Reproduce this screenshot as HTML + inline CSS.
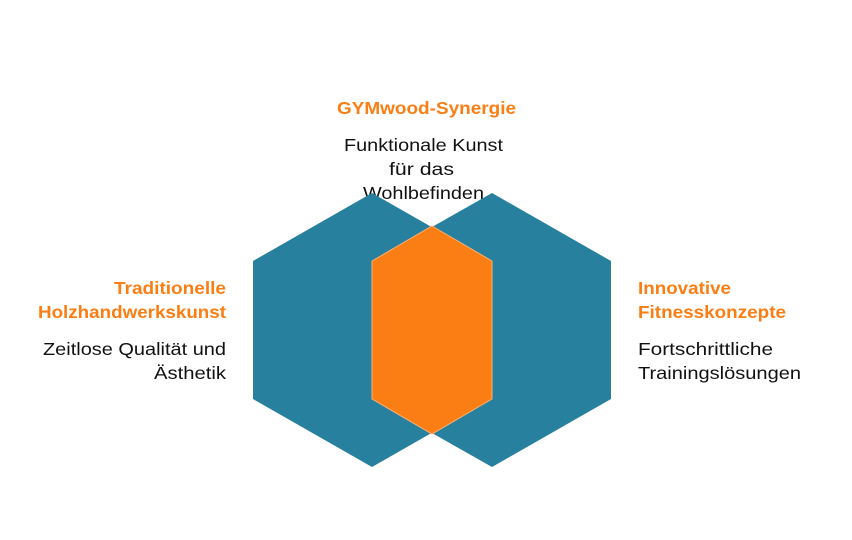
<!DOCTYPE html>
<html><head><meta charset="utf-8"><style>
html,body{margin:0;padding:0;background:#fff;}
svg{display:block;}
text{font-family:"Liberation Sans",sans-serif;font-size:17.5px;}
.t{fill:#fb7e14;font-weight:bold;}
.b{fill:#111;}
</style></head><body>
<svg width="852" height="540" viewBox="0 0 852 540">
<text class="t" x="337" y="114" textLength="179" lengthAdjust="spacingAndGlyphs">GYMwood-Synergie</text>
<text class="b" x="344" y="151" textLength="159" lengthAdjust="spacingAndGlyphs">Funktionale Kunst</text>
<text class="b" x="389" y="175" textLength="65" lengthAdjust="spacingAndGlyphs">für das</text>
<text class="b" x="363" y="199" textLength="121" lengthAdjust="spacingAndGlyphs">Wohlbefinden</text>
<polygon points="372,193 491,261 491,399 372,467 253,399 253,261" fill="#26809e"/>
<polygon points="492,193 611,261 611,399 492,467 372,399 372,261" fill="#26809e"/>
<polygon points="432,226 492,261 492,399 432,434 372,399 372,261" fill="#fb7e14" stroke="#fdb070" stroke-width="1"/>
<text class="t" x="114" y="294" textLength="112" lengthAdjust="spacingAndGlyphs">Traditionelle</text>
<text class="t" x="38" y="318" textLength="188" lengthAdjust="spacingAndGlyphs">Holzhandwerkskunst</text>
<text class="b" x="43" y="355" textLength="183" lengthAdjust="spacingAndGlyphs">Zeitlose Qualität und</text>
<text class="b" x="154" y="379" textLength="72" lengthAdjust="spacingAndGlyphs">Ästhetik</text>
<text class="t" x="638" y="294" textLength="93" lengthAdjust="spacingAndGlyphs">Innovative</text>
<text class="t" x="638" y="318" textLength="148" lengthAdjust="spacingAndGlyphs">Fitnesskonzepte</text>
<text class="b" x="638" y="355" textLength="135" lengthAdjust="spacingAndGlyphs">Fortschrittliche</text>
<text class="b" x="638" y="379" textLength="163" lengthAdjust="spacingAndGlyphs">Trainingslösungen</text>
</svg>
</body></html>
